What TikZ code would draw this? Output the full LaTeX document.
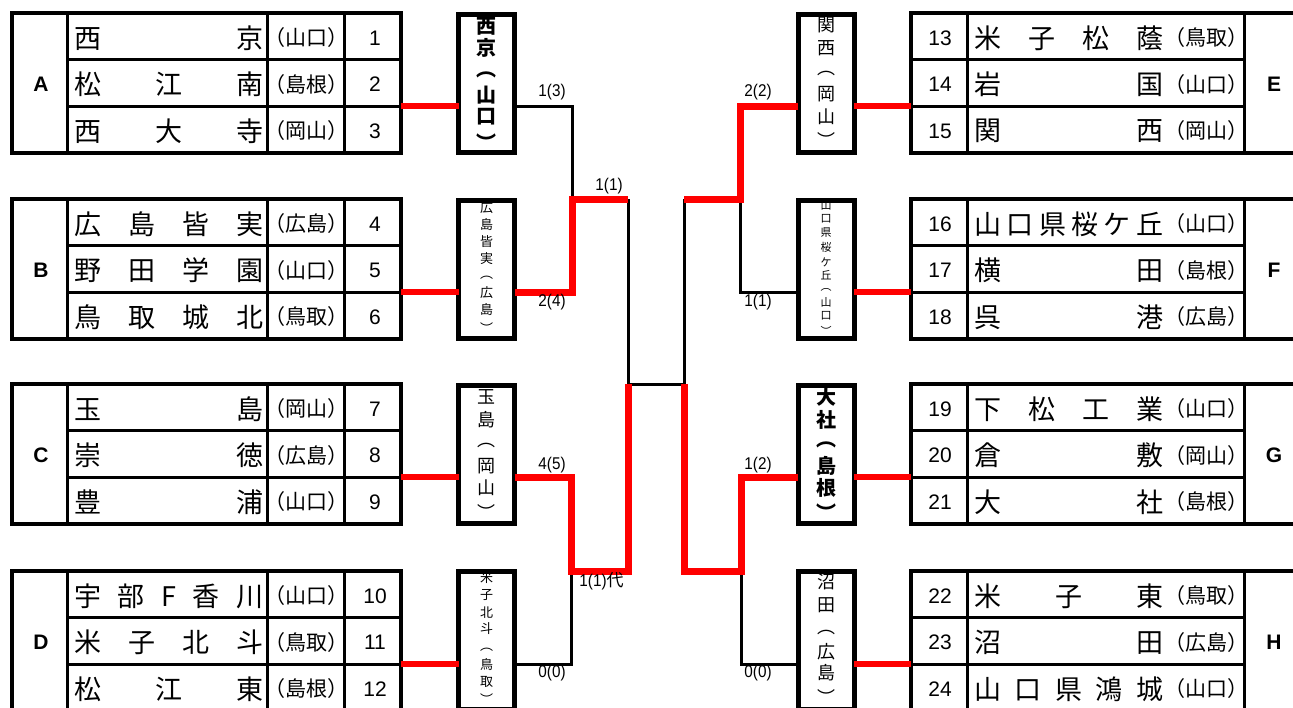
\documentclass[tikz,border=0pt]{standalone}
\usepackage{fontspec}
\setmainfont{Liberation Sans}
\newfontfamily\jp{Noto Sans CJK JP}
\newfontfamily\labf[FakeStretch=0.9]{Liberation Sans}
\newcommand\myfs[1]{\fontsize{#1}{#1}\selectfont}
\tikzset{
  gframe/.style={draw, line width=4pt, inner sep=0pt, outer sep=0pt},
  gline/.style={line width=3pt},
  mbox/.style={draw, line width=5pt, inner sep=0pt, outer sep=0pt, minimum width=56pt, minimum height=138.5pt, anchor=north},
  win/.style={draw=red, line width=7pt},
  lose/.style={draw=black, line width=3pt},
  feed/.style={draw=red, line width=6pt},
  nm/.style={anchor=west, inner sep=0pt, font=\jp\myfs{27}},
  pf/.style={inner sep=0pt, font=\jp\myfs{21}},
  nb/.style={inner sep=0pt, font=\myfs{21}},
  lt/.style={inner sep=0pt, font=\bfseries\myfs{21}},
  sc/.style={inner sep=0pt, font=\labf\myfs{17}},
  vc/.style={inner sep=0pt},
}
\newcommand\mkLgrp[3]{%
  \node[gframe, minimum width=389pt, minimum height=140pt, anchor=north west] (g#1) at (12,#2) {};
  \draw[gline] (67,#2) -- (67,#2+140) (267,#2) -- (267,#2+140) (344,#2) -- (344,#2+140)
    (67,#2+46.5) -- (401,#2+46.5) (67,#2+93) -- (401,#2+93);
  \node[lt] (L#1) at (41,#2+71) {#3};
}
\newcommand\mkRgrp[3]{%
  \node[gframe, minimum width=389pt, minimum height=140pt, anchor=north west] (g#1) at (911,#2) {};
  \draw[gline] (967,#2) -- (967,#2+140) (1244,#2) -- (1244,#2+140)
    (911,#2+46.5) -- (1244,#2+46.5) (911,#2+93) -- (1244,#2+93);
  \node[lt] (L#1) at (1274,#2+71) {#3};
}
\newcommand\mkLrow[5]{%
  \node[nm] (n#1) at (74,#2) {\hbox to 189pt{#3}};
  \node[pf] (p#1) at (306,#2) {#4};
  \node[nb] (k#1) at (375,#2) {#5};
}
\newcommand\mkRrow[5]{%
  \node[nb] (k#1) at (940,#2) {#3};
  \node[nm] (n#1) at (974,#2) {\hbox to 189pt{#4}};
  \node[pf] (p#1) at (1206,#2) {#5};
}
\newcommand\mkVtxt[4]{%
  \foreach \c/\yy [count=\i] in {#4} {\node[vc, font=#3] (#1\i) at (#2,\yy) {\c};}
}
\begin{document}
\begin{tikzpicture}[x=1pt, y=-1pt]
\useasboundingbox (0,0) rectangle (1293,707);
\clip (0,0) rectangle (1293,707);

% ---------- mid boxes
\node[mbox] (mA) at (486.5,14) {};
\node[mbox] (mB) at (486.5,200) {};
\node[mbox] (mC) at (486.5,385) {};
\node[mbox] (mD) at (486.5,571) {};
\node[mbox] (mE) at (826,14) {};
\node[mbox] (mF) at (826,200) {};
\node[mbox] (mG) at (826,385) {};
\node[mbox] (mH) at (826,571) {};

% ---------- groups
\mkLgrp{A}{13}{A}
\mkLgrp{B}{199}{B}
\mkLgrp{C}{384}{C}
\mkLgrp{D}{571}{D}
\mkRgrp{E}{13}{E}
\mkRgrp{F}{199}{F}
\mkRgrp{G}{384}{G}
\mkRgrp{H}{571}{H}

% ---------- feeds
\draw[feed] (gA.east |- 0,106) -- (mA.west |- 0,106);
\draw[feed] (gB.east |- 0,292) -- (mB.west |- 0,292);
\draw[feed] (gC.east |- 0,477) -- (mC.west |- 0,477);
\draw[feed] (gD.east |- 0,664) -- (mD.west |- 0,664);
\draw[feed] (gE.west |- 0,106) -- (mE.east |- 0,106);
\draw[feed] (gF.west |- 0,292) -- (mF.east |- 0,292);
\draw[feed] (gG.west |- 0,477) -- (mG.east |- 0,477);
\draw[feed] (gH.west |- 0,664) -- (mH.east |- 0,664);

% ---------- bracket
\coordinate (jAB) at (572,199);
\coordinate (jCD) at (571,571);
\coordinate (jL) at (628,384);
\coordinate (jR) at (684,384);
\coordinate (jEF) at (740,199);
\coordinate (jGH) at (741,571);

\draw[lose] (mA.east |- 0,106) -| (jAB);
\draw[lose] (jL |- jAB) -- (jL);
\draw[lose] (mD.east |- 0,664) -| (jCD);
\draw[lose] (jL) -- (jR);
\draw[lose] (jR |- jEF) -- (jR);
\draw[lose] (mF.west |- 0,292) -| (jEF);
\draw[lose] (mH.west |- 0,664) -| (jGH);

\draw[win] (mB.east |- 0,292) -| (jAB) -- (jL |- jAB);
\draw[win] (mC.east |- 0,477) -| (jCD) -- (jL |- jCD) -- (jL);
\draw[win] (mE.west |- 0,106) -| (jEF) -- (jR |- jEF);
\draw[win] (mG.west |- 0,477) -| (jGH) -- (jR |- jGH) -- (jR);

% ---------- scores
\node[sc] (s1) at (552,92.5) {1(3)};
\node[sc] (s2) at (552,302.5) {2(4)};
\node[sc] (s3) at (609,186) {1(1)};
\node[sc] (s4) at (552,465) {4(5)};
\node[sc] (s5) at (601.5,581) {1(1){\jp 代}};
\node[sc] (s6) at (552,673) {0(0)};
\node[sc] (s7) at (758,92.5) {2(2)};
\node[sc] (s8) at (758,302.5) {1(1)};
\node[sc] (s9) at (758,465) {1(2)};
\node[sc] (s10) at (758,673) {0(0)};

% ---------- vertical texts
\mkVtxt{vA}{486.5}{\jp\bfseries\myfs{20}}{西/26,京/48,︵/75,山/95,口/117,︶/142}
\mkVtxt{vB}{486.5}{\jp\myfs{13}}{広/208,島/225,皆/242,実/259,︵/278,広/293,島/310,︶/328}
\mkVtxt{vC}{486.5}{\jp\myfs{18}}{玉/397,島/420,︵/445,岡/466,山/488,︶/512}
\mkVtxt{vD}{486.5}{\jp\myfs{13}}{米/578,子/595,北/613,斗/629,︵/650,鳥/665,取/682,︶/699}
\mkVtxt{vE}{826}{\jp\myfs{18}}{関/25,西/48,︵/73,岡/94,山/117,︶/140}
\mkVtxt{vF}{826}{\jp\myfs{11}}{山/205,口/219,県/233,桜/247,ケ/262,丘/275,︵/290,山/302,口/316,︶/331}
\mkVtxt{vG}{826}{\jp\bfseries\myfs{20}}{大/397,社/420,︵/445,島/466,根/488,︶/512}
\mkVtxt{vH}{826}{\jp\myfs{18}}{沼/582,田/605,︵/632,広/652,島/673,︶/697}

% ---------- rows left
\mkLrow{1}{38}{西\hfill 京}{（山口）}{1}
\mkLrow{2}{84.5}{松\hfill 江\hfill 南}{（島根）}{2}
\mkLrow{3}{131}{西\hfill 大\hfill 寺}{（岡山）}{3}
\mkLrow{4}{224}{広\hfill 島\hfill 皆\hfill 実}{（広島）}{4}
\mkLrow{5}{270.5}{野\hfill 田\hfill 学\hfill 園}{（山口）}{5}
\mkLrow{6}{317}{鳥\hfill 取\hfill 城\hfill 北}{（鳥取）}{6}
\mkLrow{7}{409}{玉\hfill 島}{（岡山）}{7}
\mkLrow{8}{455.5}{崇\hfill 徳}{（広島）}{8}
\mkLrow{9}{502}{豊\hfill 浦}{（山口）}{9}
\mkLrow{10}{596}{宇\hfill 部\hfill F\hfill 香\hfill 川}{（山口）}{10}
\mkLrow{11}{642.5}{米\hfill 子\hfill 北\hfill 斗}{（鳥取）}{11}
\mkLrow{12}{689}{松\hfill 江\hfill 東}{（島根）}{12}
% ---------- rows right
\mkRrow{13}{38}{13}{米\hfill 子\hfill 松\hfill 蔭}{（鳥取）}
\mkRrow{14}{84.5}{14}{岩\hfill 国}{（山口）}
\mkRrow{15}{131}{15}{関\hfill 西}{（岡山）}
\mkRrow{16}{224}{16}{山\hfill 口\hfill 県\hfill 桜\hfill ケ\hfill 丘}{（山口）}
\mkRrow{17}{270.5}{17}{横\hfill 田}{（島根）}
\mkRrow{18}{317}{18}{呉\hfill 港}{（広島）}
\mkRrow{19}{409}{19}{下\hfill 松\hfill 工\hfill 業}{（山口）}
\mkRrow{20}{455.5}{20}{倉\hfill 敷}{（岡山）}
\mkRrow{21}{502}{21}{大\hfill 社}{（島根）}
\mkRrow{22}{596}{22}{米\hfill 子\hfill 東}{（鳥取）}
\mkRrow{23}{642.5}{23}{沼\hfill 田}{（広島）}
\mkRrow{24}{689}{24}{山\hfill 口\hfill 県\hfill 鴻\hfill 城}{（山口）}
\end{tikzpicture}
\end{document}
